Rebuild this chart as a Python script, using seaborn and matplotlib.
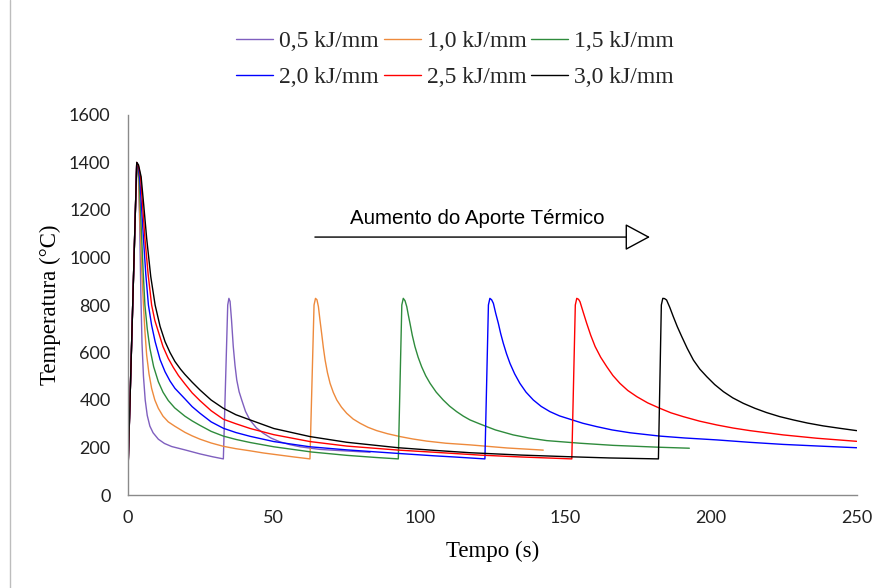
import matplotlib
matplotlib.use("Agg")
import matplotlib.pyplot as plt
import seaborn as sns
import pandas as pd
from matplotlib.lines import Line2D

# ---------------- data ----------------
labels = ["0,5 kJ/mm", "1,0 kJ/mm", "1,5 kJ/mm", "2,0 kJ/mm", "2,5 kJ/mm", "3,0 kJ/mm"]
colors = ["#7F5FBF", "#EE8A3C", "#2E8B3C", "#0000FF", "#FF0000", "#000000"]

t_05 = [0, 3, 3.3, 3.6, 4.0, 4.4, 4.8, 5.3, 5.9, 6.6, 7.5, 8.6, 10.4, 12.5, 15, 19.5, 24.7, 29, 32.7,
        34.2, 34.6, 35.0, 35.5, 36.1, 36.7, 37.3, 38.1, 39, 40.3, 41.8, 44, 46.4, 49, 52.1,
        55.5, 59, 65.8, 74, 83]
T_05 = [100, 1400, 1390, 1330, 1150, 850, 640, 500, 400, 335, 290, 262, 235, 217, 204, 190, 173, 161, 152,
        800, 828, 815, 737, 625, 545, 484, 435, 400, 352, 316, 283, 260, 240, 224,
        212, 203, 192, 186, 180]

t_10 = [0, 3, 3.3, 3.6, 4.1, 4.7, 5.3, 5.8, 6.4, 7.2, 8.1, 9.2, 10.4, 12, 13.8, 16, 19.5, 22, 24.7,
        28.5, 32.7, 37, 41.9, 46.4, 52, 57, 62.4,
        63.8, 64.3, 64.8, 65.3, 65.8, 66.4, 67.0, 67.6, 68.4, 69.3, 70.4, 71.6, 73.2, 75, 77.2,
        79.6, 82.3, 85.3, 89, 93.3, 97.6, 102.4, 109, 117.3, 130, 142.4]
T_10 = [100, 1400, 1385, 1340, 1151, 950, 800, 690, 589, 510, 449, 400, 365, 332, 308, 290, 264, 249, 235,
        219, 205, 195, 186, 177, 168, 160, 152,
        800, 828, 822, 793, 740, 681, 620, 568, 515, 470, 432, 400, 370, 344, 320,
        302, 285, 271, 258, 246, 236, 227, 218, 211, 198, 189]

t_15 = [0, 3, 3.4, 3.8, 4.2, 4.7, 5.2, 5.8, 6.6, 7.5, 8.8, 10.4, 12, 13.8, 16, 19.5, 22, 24.7, 28.5,
        32.7, 37, 41.9, 50, 63, 75, 85, 92.7,
        93.9, 94.4, 95.0, 95.6, 96.1, 96.7, 97.5, 98.4, 99.5, 100.7, 102.1, 103.6, 105.7, 108.1,
        110.3, 112.7, 115, 117.3, 120.7, 126, 132.1, 137.5, 143.6, 155, 166.4, 182.4, 192.5]
T_15 = [100, 1400, 1380, 1330, 1220, 1081, 940, 800, 700, 618, 540, 477, 433, 398, 367, 332, 312, 293, 268,
        248, 234, 221, 203, 181, 167, 158, 152,
        800, 828, 818, 793, 760, 723, 672, 625, 580, 540, 502, 470, 433, 400,
        374, 351, 332, 316, 299, 274, 253, 240, 229, 218, 209, 201, 197]

t_20 = [0, 3, 3.5, 4.0, 4.6, 5.3, 6.1, 7.0, 8.1, 9.3, 11, 12.7, 14.4, 16.1, 19.5, 22, 24.7, 28.5, 32.7,
        37, 41.9, 50, 62.4, 75, 92.7, 105, 112, 122.4,
        123.6, 124.1, 124.7, 125.3, 126.1, 127, 127.8, 128.7, 129.8, 131, 132.6, 134.4, 136.5, 139,
        141.7, 144.7, 148, 151.6, 156, 160.7, 166, 172.2, 182.4, 191, 201.9, 213, 224.7, 237, 249.9]
T_20 = [100, 1400, 1385, 1340, 1220, 1081, 930, 800, 715, 646, 570, 519, 480, 449, 405, 372, 344, 308, 281,
        263, 247, 225, 203, 190, 175, 165, 160, 152,
        800, 828, 822, 807, 765, 723, 680, 639, 595, 554, 510, 470, 433, 400,
        373, 351, 333, 319, 302, 288, 274, 262, 248, 240, 232, 222, 213, 206, 199]

t_25 = [0, 3, 3.6, 4.3, 5.0, 5.8, 6.9, 8.1, 9.2, 10.4, 12, 13.8, 15.5, 17.3, 19.5, 22, 24.7, 28.5, 32.7,
        37, 41.9, 50, 62.4, 75, 92.7, 105, 120.7, 135, 152.2,
        153.4, 153.9, 154.5, 155, 156.1, 157.3, 158.7, 160.2, 162.1, 164.2, 166.3, 168.7, 171.4,
        174.5, 178.2, 182.4, 186.2, 190.4, 196, 201.9, 207.5, 213.3, 219, 224.7, 236.2, 249.9]
T_25 = [100, 1400, 1385, 1340, 1220, 1081, 930, 800, 735, 688, 625, 575, 538, 503, 468, 430, 397, 355, 319,
        300, 280, 254, 225, 206, 189, 180, 168, 160, 152,
        800, 828, 824, 814, 770, 723, 672, 625, 580, 540, 503, 470, 440,
        414, 388, 365, 346, 330, 311, 295, 282, 271, 262, 253, 239, 226]

t_30 = [0, 3, 3.6, 4.5, 5.4, 6.4, 7.8, 9.3, 11, 12.7, 14.4, 16.1, 18, 19.5, 22, 24.7, 28.5, 32.7, 37, 41.9,
        50, 62.4, 75, 92.7, 105, 117.3, 135, 151.6, 165, 181.9,
        182.9, 183.4, 184.0, 184.7, 185.8, 187, 188.4, 189.9, 191.8, 193.9, 196.1, 198.5, 201.2,
        204.2, 207.4, 211, 215, 219, 223.5, 228.2, 233, 238.4, 244, 249.9]
T_30 = [100, 1400, 1390, 1340, 1220, 1081, 920, 800, 710, 646, 600, 562, 530, 508, 475, 442, 400, 365, 338, 316,
        280, 246, 222, 199, 188, 178, 168, 161, 156, 152,
        800, 828, 827, 821, 790, 751, 708, 667, 617, 568, 530, 498, 465,
        435, 409, 386, 365, 347, 330, 316, 303, 291, 281, 271]

series_t = [t_05, t_10, t_15, t_20, t_25, t_30]
series_T = [T_05, T_10, T_15, T_20, T_25, T_30]

x_ticks = [0, 50, 100, 150, 200, 250]
y_ticks = [0, 200, 400, 600, 800, 1000, 1200, 1400, 1600]

# ---------------- figure ----------------
sns.set_theme(style="white")
plt.rcParams["font.family"] = ["Liberation Serif", "DejaVu Serif"]

W, H = 884, 588
fig = plt.figure(figsize=(W / 100, H / 100), dpi=100)
x0, x1, y0, y1 = 128, 857, 115, 495
ax = fig.add_axes([x0 / W, 1 - y1 / H, (x1 - x0) / W, (y1 - y0) / H])

for t, T, c, lab in zip(series_t, series_T, colors, labels):
    df = pd.DataFrame({"Tempo": t, "Temp": T})
    sns.lineplot(data=df, x="Tempo", y="Temp", ax=ax, color=c, lw=1.0,
                 sort=False, estimator=None, label=lab)

ax.set_xlim(0, 250)
ax.set_ylim(0, 1600)
ax.set_xticks(x_ticks)
ax.set_yticks(y_ticks)
for s in ["top", "right"]:
    ax.spines[s].set_visible(False)
for s in ["left", "bottom"]:
    ax.spines[s].set_color("#8a8a8a")
    ax.spines[s].set_linewidth(1.0)
ax.tick_params(axis="x", direction="out", length=5, width=1, color="#8a8a8a", pad=6)
ax.tick_params(axis="y", length=0, pad=12.5)
for lab in ax.get_xticklabels() + ax.get_yticklabels():
    lab.set_fontfamily("Lato")
    lab.set_fontsize(13)
    lab.set_color("#222222")

ax.set_xlabel("Tempo (s)", fontsize=16.5, color="black")
ax.set_ylabel("Temperatura (°C)", fontsize=16.5, color="black")
ax.xaxis.set_label_coords(0.5, -0.12)
ax.yaxis.set_label_coords(-0.092, 0.5)

# legend: two rows of three
handles, labs = ax.get_legend_handles_labels()
ax.get_legend().remove()
order = [0, 3, 1, 4, 2, 5]
fig.legend([handles[i] for i in order], [labs[i] for i in order], ncol=3,
           loc="center", bbox_to_anchor=(455 / W, 1 - 59.5 / H), frameon=False,
           prop={"family": "Liberation Serif", "size": 17},
           handlelength=1.57, handletextpad=0.25, columnspacing=0.21,
           labelspacing=0.63)

# annotation arrow
ax.annotate("", xy=(179, 1086), xytext=(64.1, 1086),
            arrowprops=dict(arrowstyle="-|>,head_length=0.8,head_width=0.43",
                            mutation_scale=20, fc="white", ec="black", lw=1,
                            shrinkA=0, shrinkB=0))
ax.text(119.8, 1166, "Aumento do Aporte Térmico", ha="center", va="center",
        fontfamily="Liberation Sans", fontsize=14.8, color="black")

# chart-area border (left edge)
fig.add_artist(Line2D([10 / W, 10 / W], [0, 1], transform=fig.transFigure,
                      color="#bdbdbd", lw=1))

fig.savefig("out.png", dpi=100)
